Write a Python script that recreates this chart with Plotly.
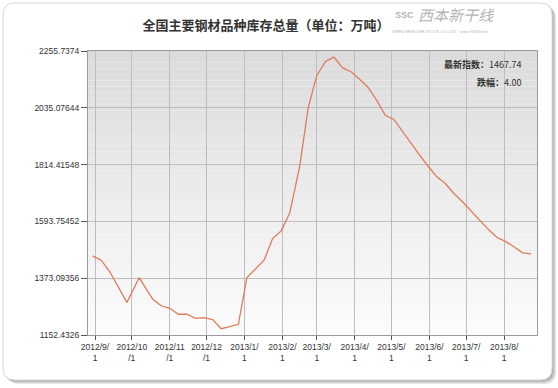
import plotly.graph_objects as go

# ---------------- data ----------------
dates = [
    "2012-08-30", "2012-09-06", "2012-09-13", "2012-09-20", "2012-09-27", "2012-10-07",
    "2012-10-18", "2012-10-25", "2012-11-01", "2012-11-08", "2012-11-15", "2012-11-22",
    "2012-11-29", "2012-12-06", "2012-12-13", "2012-12-20", "2012-12-27",
    "2013-01-03", "2013-01-10", "2013-01-17", "2013-01-24", "2013-01-31", "2013-02-07",
    "2013-02-15", "2013-02-22", "2013-03-01", "2013-03-08", "2013-03-15", "2013-03-22",
    "2013-03-29", "2013-04-05", "2013-04-12", "2013-04-19", "2013-04-26", "2013-05-03",
    "2013-05-10", "2013-05-17", "2013-05-24", "2013-05-31", "2013-06-07", "2013-06-14",
    "2013-06-21", "2013-06-28", "2013-07-05", "2013-07-12", "2013-07-19", "2013-07-26",
    "2013-08-02", "2013-08-09", "2013-08-16", "2013-08-23",
]
inventory = [
    1460, 1443, 1398, 1337, 1279, 1375,
    1292, 1266, 1256, 1233, 1233, 1217,
    1220, 1212, 1177, 1185, 1194,
    1376, 1409, 1443, 1527, 1557, 1627,
    1806, 2034, 2160, 2214, 2232, 2191,
    2175, 2146, 2114, 2064, 2006, 1990,
    1942, 1896, 1851, 1808, 1767, 1741,
    1702, 1670, 1634, 1601, 1563, 1532,
    1516, 1495, 1471.74, 1467.74,
]
x_tick_vals = ["2012-09-01", "2012-10-01", "2012-11-01", "2012-12-01", "2013-01-01",
               "2013-02-01", "2013-03-01", "2013-04-01", "2013-05-01", "2013-06-01",
               "2013-07-01", "2013-08-01"]
x_tick_text = ["2012/9/<br>1", "2012/10<br>/1", "2012/11<br>/1", "2012/12<br>/1",
               "2013/1/<br>1", "2013/2/<br>1", "2013/3/<br>1", "2013/4/<br>1",
               "2013/5/<br>1", "2013/6/<br>1", "2013/7/<br>1", "2013/8/<br>1"]
y_tick_vals = [1152.4326, 1373.09356, 1593.75452, 1814.41548, 2035.07644, 2255.7374]
y_tick_text = ["1152.4326", "1373.09356", "1593.75452", "1814.41548", "2035.07644", "2255.7374"]

title_text = "全国主要钢材品种库存总量（单位：万吨）"
latest_label = "最新指数："
latest_value = "1467.74"
change_label = "跌幅："
change_value = "4.00"

# ---------------- layout geometry ----------------
W, H = 558, 388
L, R, T, B = 88, 537, 51, 335
pw, ph = R - L, B - T


def px(x):
    return (x - L) / pw


def py(y):
    return (B - y) / ph


def rounded_rect(x0, y0, x1, y1, r):
    pts = [
        f"M {px(x0 + r)} {py(y0)}",
        f"L {px(x1 - r)} {py(y0)}",
        f"Q {px(x1)} {py(y0)} {px(x1)} {py(y0 + r)}",
        f"L {px(x1)} {py(y1 - r)}",
        f"Q {px(x1)} {py(y1)} {px(x1 - r)} {py(y1)}",
        f"L {px(x0 + r)} {py(y1)}",
        f"Q {px(x0)} {py(y1)} {px(x0)} {py(y1 - r)}",
        f"L {px(x0)} {py(y0 + r)}",
        f"Q {px(x0)} {py(y0)} {px(x0 + r)} {py(y0)}",
        "Z",
    ]
    return " ".join(pts)


shapes = []
# card shadow
for off, col in [(4, "#e6e6e6"), (3, "#d2d2d2"), (2, "#bdbdbd"), (1, "#b0b0b0")]:
    shapes.append(dict(type="path", xref="paper", yref="paper",
                       path=rounded_rect(3 + off, 3 + off, 552 + off, 380 + off, 12),
                       fillcolor=col, line=dict(width=0), layer="below"))
# card
shapes.append(dict(type="path", xref="paper", yref="paper",
                   path=rounded_rect(3, 3, 552, 380, 12),
                   fillcolor="#ffffff", line=dict(color="#d8d8d8", width=1), layer="below"))
# plot-area vertical gradient
n = 48
top_c, bot_c = 219, 252
for i in range(n):
    f = (i + 0.5) / n
    c = int(round(bot_c + (top_c - bot_c) * f))
    shapes.append(dict(type="rect", xref="x domain", yref="y domain",
                       x0=0, x1=1, y0=i / n, y1=(i + 1) / n,
                       fillcolor=f"rgb({c},{c},{c})", line=dict(width=0), layer="below"))

fig = go.Figure()
fig.add_trace(go.Scatter(
    x=dates, y=inventory, mode="lines",
    line=dict(color="#e07a5a", width=1.3),
    hoverinfo="skip", showlegend=False,
))

tick_font = dict(family="Liberation Sans, Arial, sans-serif", size=8.5, color="#333333")

fig.update_layout(
    width=W, height=H,
    margin=dict(l=L, r=W - R, t=T, b=H - B, pad=0),
    paper_bgcolor="#ffffff",
    plot_bgcolor="rgba(0,0,0,0)",
    shapes=shapes,
    title=dict(text=f"<b>{title_text}</b>", x=266 / W, xref="container", xanchor="center",
               y=1 - 25 / H, yref="container", yanchor="middle",
               font=dict(family="Noto Sans CJK SC", size=13, color="#333333")),
    xaxis=dict(
        type="date",
        range=["2012-08-26 06:00", "2013-08-27 20:00"],
        tickmode="array", tickvals=x_tick_vals, ticktext=x_tick_text,
        tickfont=tick_font, ticks="outside", ticklen=4, tickcolor="#555555",
        showgrid=True, gridcolor="#bdbdbd", gridwidth=1,
        showline=True, linecolor="#9a9a9a", linewidth=1, mirror=True,
        zeroline=False, fixedrange=True,
    ),
    yaxis=dict(
        range=[y_tick_vals[0], y_tick_vals[-1]],
        tickmode="array", tickvals=y_tick_vals, ticktext=y_tick_text,
        tickfont=tick_font, ticks="outside", ticklen=6, tickcolor="#555555",
        showgrid=True, gridcolor="#bdbdbd", gridwidth=1,
        showline=True, linecolor="#9a9a9a", linewidth=1, mirror=True,
        zeroline=False, fixedrange=True,
    ),
    annotations=[
        dict(xref="paper", yref="paper", x=px(524), y=py(64), xanchor="right", yanchor="middle",
             showarrow=False,
             text=f"<b>{latest_label}</b>{latest_value}",
             font=dict(family="Noto Sans CJK SC, Liberation Sans", size=9, color="#333333")),
        dict(xref="paper", yref="paper", x=px(524), y=py(83), xanchor="right", yanchor="middle",
             showarrow=False,
             text=f"<b>{change_label}</b>{change_value}",
             font=dict(family="Noto Sans CJK SC, Liberation Sans", size=9, color="#333333")),
        # watermark logo
        dict(xref="paper", yref="paper", x=px(456), y=py(15), xanchor="center", yanchor="middle",
             showarrow=False, text="<i>西本新干线</i>",
             font=dict(family="Noto Sans CJK SC", size=15, color="#b4b4b4")),
        dict(xref="paper", yref="paper", x=px(404), y=py(15), xanchor="center", yanchor="middle",
             showarrow=False, text="<b>SSC</b>",
             font=dict(family="Liberation Sans", size=9, color="#b4b4b4")),
        dict(xref="paper", yref="paper", x=px(440), y=py(31), xanchor="center", yanchor="middle",
             showarrow=False, text="XIBEN NEW LINE STOCK CO.,LTD.   www.96369.net",
             font=dict(family="Liberation Sans", size=4, color="#b4b4b4")),
    ],
)

fig.write_html("out.html")
